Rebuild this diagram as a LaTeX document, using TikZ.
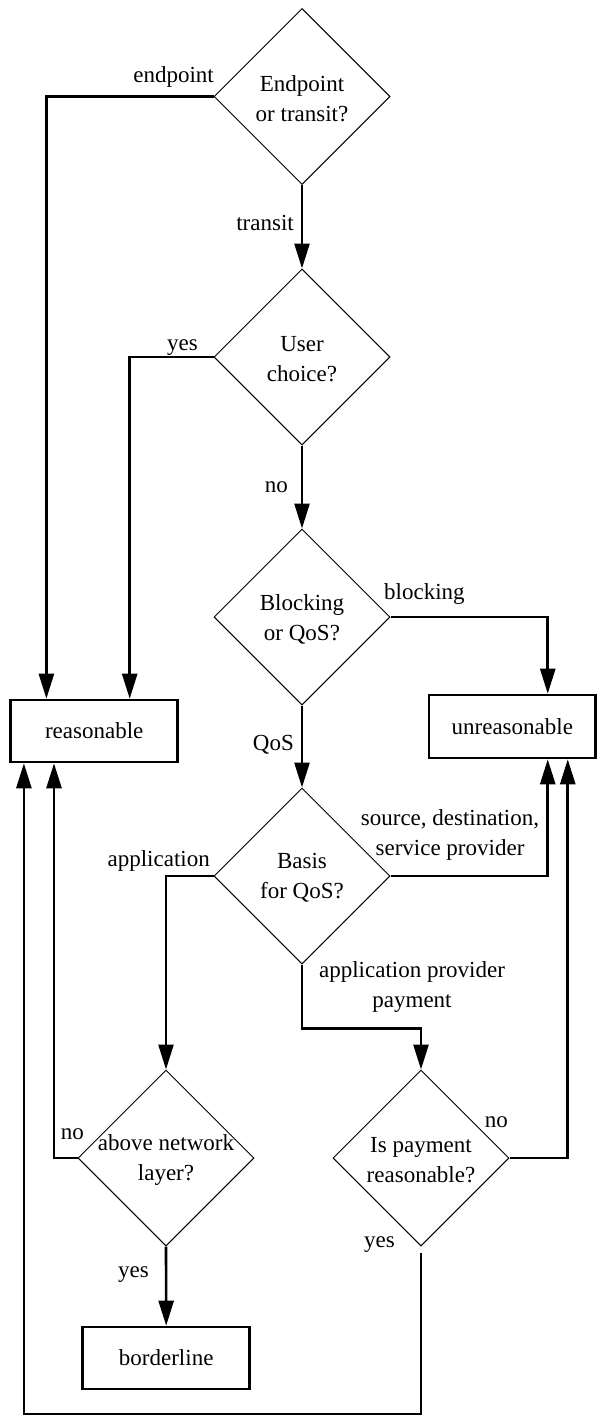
\documentclass[tikz,border=0pt]{standalone}
\usepackage{fontspec}
\setmainfont{Liberation Serif}
\usetikzlibrary{shapes.geometric,arrows.meta}
\begin{document}
\begin{tikzpicture}[x=1pt,y=-1pt,
  every node/.style={font=\fontsize{23}{30}\selectfont},
  dec/.style={shape=diamond, draw, line width=1pt, aspect=1,
    minimum width=176pt, minimum height=176pt, inner sep=0pt},
  dtxt/.style={align=center, inner sep=0pt, yshift=-2pt},
  outcome/.style={draw, line width=2.6pt, minimum width=167pt,
    minimum height=62pt, inner sep=0pt},
  lbl/.style={inner sep=0pt},
  conn/.style={line width=2.6pt},
  arr/.style={conn, -{Triangle[length=25pt,width=15pt]}}]

\useasboundingbox (0,0) rectangle (597,1426);

% decisions
\node[dec, label={[dtxt,name=d1t]center:{Endpoint\\or transit?}}] (d1) at (302,96.5) {};
\node[dec, label={[dtxt,name=d2t]center:{User\\choice?}}] (d2) at (302,357) {};
\node[dec, label={[dtxt,name=d3t]center:{Blocking\\or QoS?}}] (d3) at (302,617) {};
\node[dec, label={[dtxt,name=d4t]center:{Basis\\for QoS?}}] (d4) at (302,876) {};
\node[dec, label={[dtxt,name=d5t]center:{above network\\layer?}}] (d5) at (166,1158) {};
\node[dec, label={[dtxt,name=d6t]center:{Is payment\\reasonable?}}] (d6) at (421,1158) {};

% outcomes
\node[outcome] (reas) at (94.2,731) {reasonable};
\node[outcome, minimum width=166.5pt, minimum height=63pt] (unreas) at (512.3,726.5) {unreasonable};
\node[outcome] (bord) at (166.2,1358) {borderline};

\coordinate (floor) at (0,1414);

% connectors
\draw[arr] (d1.west) -| ([xshift=37pt]reas.north west);
\draw[arr] (d1.south) -- (d2.north);
\draw[arr] (d2.west) -| ([xshift=120.3pt]reas.north west);
\draw[arr] (d2.south) -- (d3.north);
\draw[arr] (d3.east) -| ([xshift=120pt]unreas.north west);
\draw[arr] (d3.south) -- (d4.north);
\draw[arr] (d4.west) -| (d5.north);
\draw[arr] (d4.east) -| ([xshift=120pt]unreas.south west);
\draw[arr] (d4.south) |- ([yshift=41pt]d6.north) -- (d6.north);
\draw[arr] (d5.west) -| ([xshift=44.6pt]reas.south west);
\draw[arr] (d5.south) -- (bord.north);
\draw[arr] (d6.east) -| ([xshift=140pt]unreas.south west);
\draw[arr] ([yshift=-6pt]d6.south) -- (d6.south |- floor) -| ([xshift=14.5pt]reas.south west);

% branch labels
\node[lbl, anchor=base east] (l1) at (214,83) {endpoint};
\node[lbl, anchor=base east] (l2) at (294,230) {transit};
\node[lbl, anchor=base east] (l3) at (198,350) {yes};
\node[lbl, anchor=base east] (l4) at (288,492) {no};
\node[lbl, anchor=base west] (l5) at (384,599) {blocking};
\node[lbl, anchor=base east] (l6) at (294,750) {QoS};
\node[lbl, anchor=base east] (l7) at (210,866) {application};
\node[lbl, align=center] (l8) at (450,835) {source, destination,\\service provider};
\node[lbl, align=center] (l9) at (412,987) {application provider\\payment};
\node[lbl, anchor=base east] (l10) at (84,1139) {no};
\node[lbl, anchor=base east] (l11) at (149,1277) {yes};
\node[lbl, anchor=base east] (l12) at (508,1127) {no};
\node[lbl, anchor=base east] (l13) at (395,1247) {yes};
\end{tikzpicture}
\end{document}
